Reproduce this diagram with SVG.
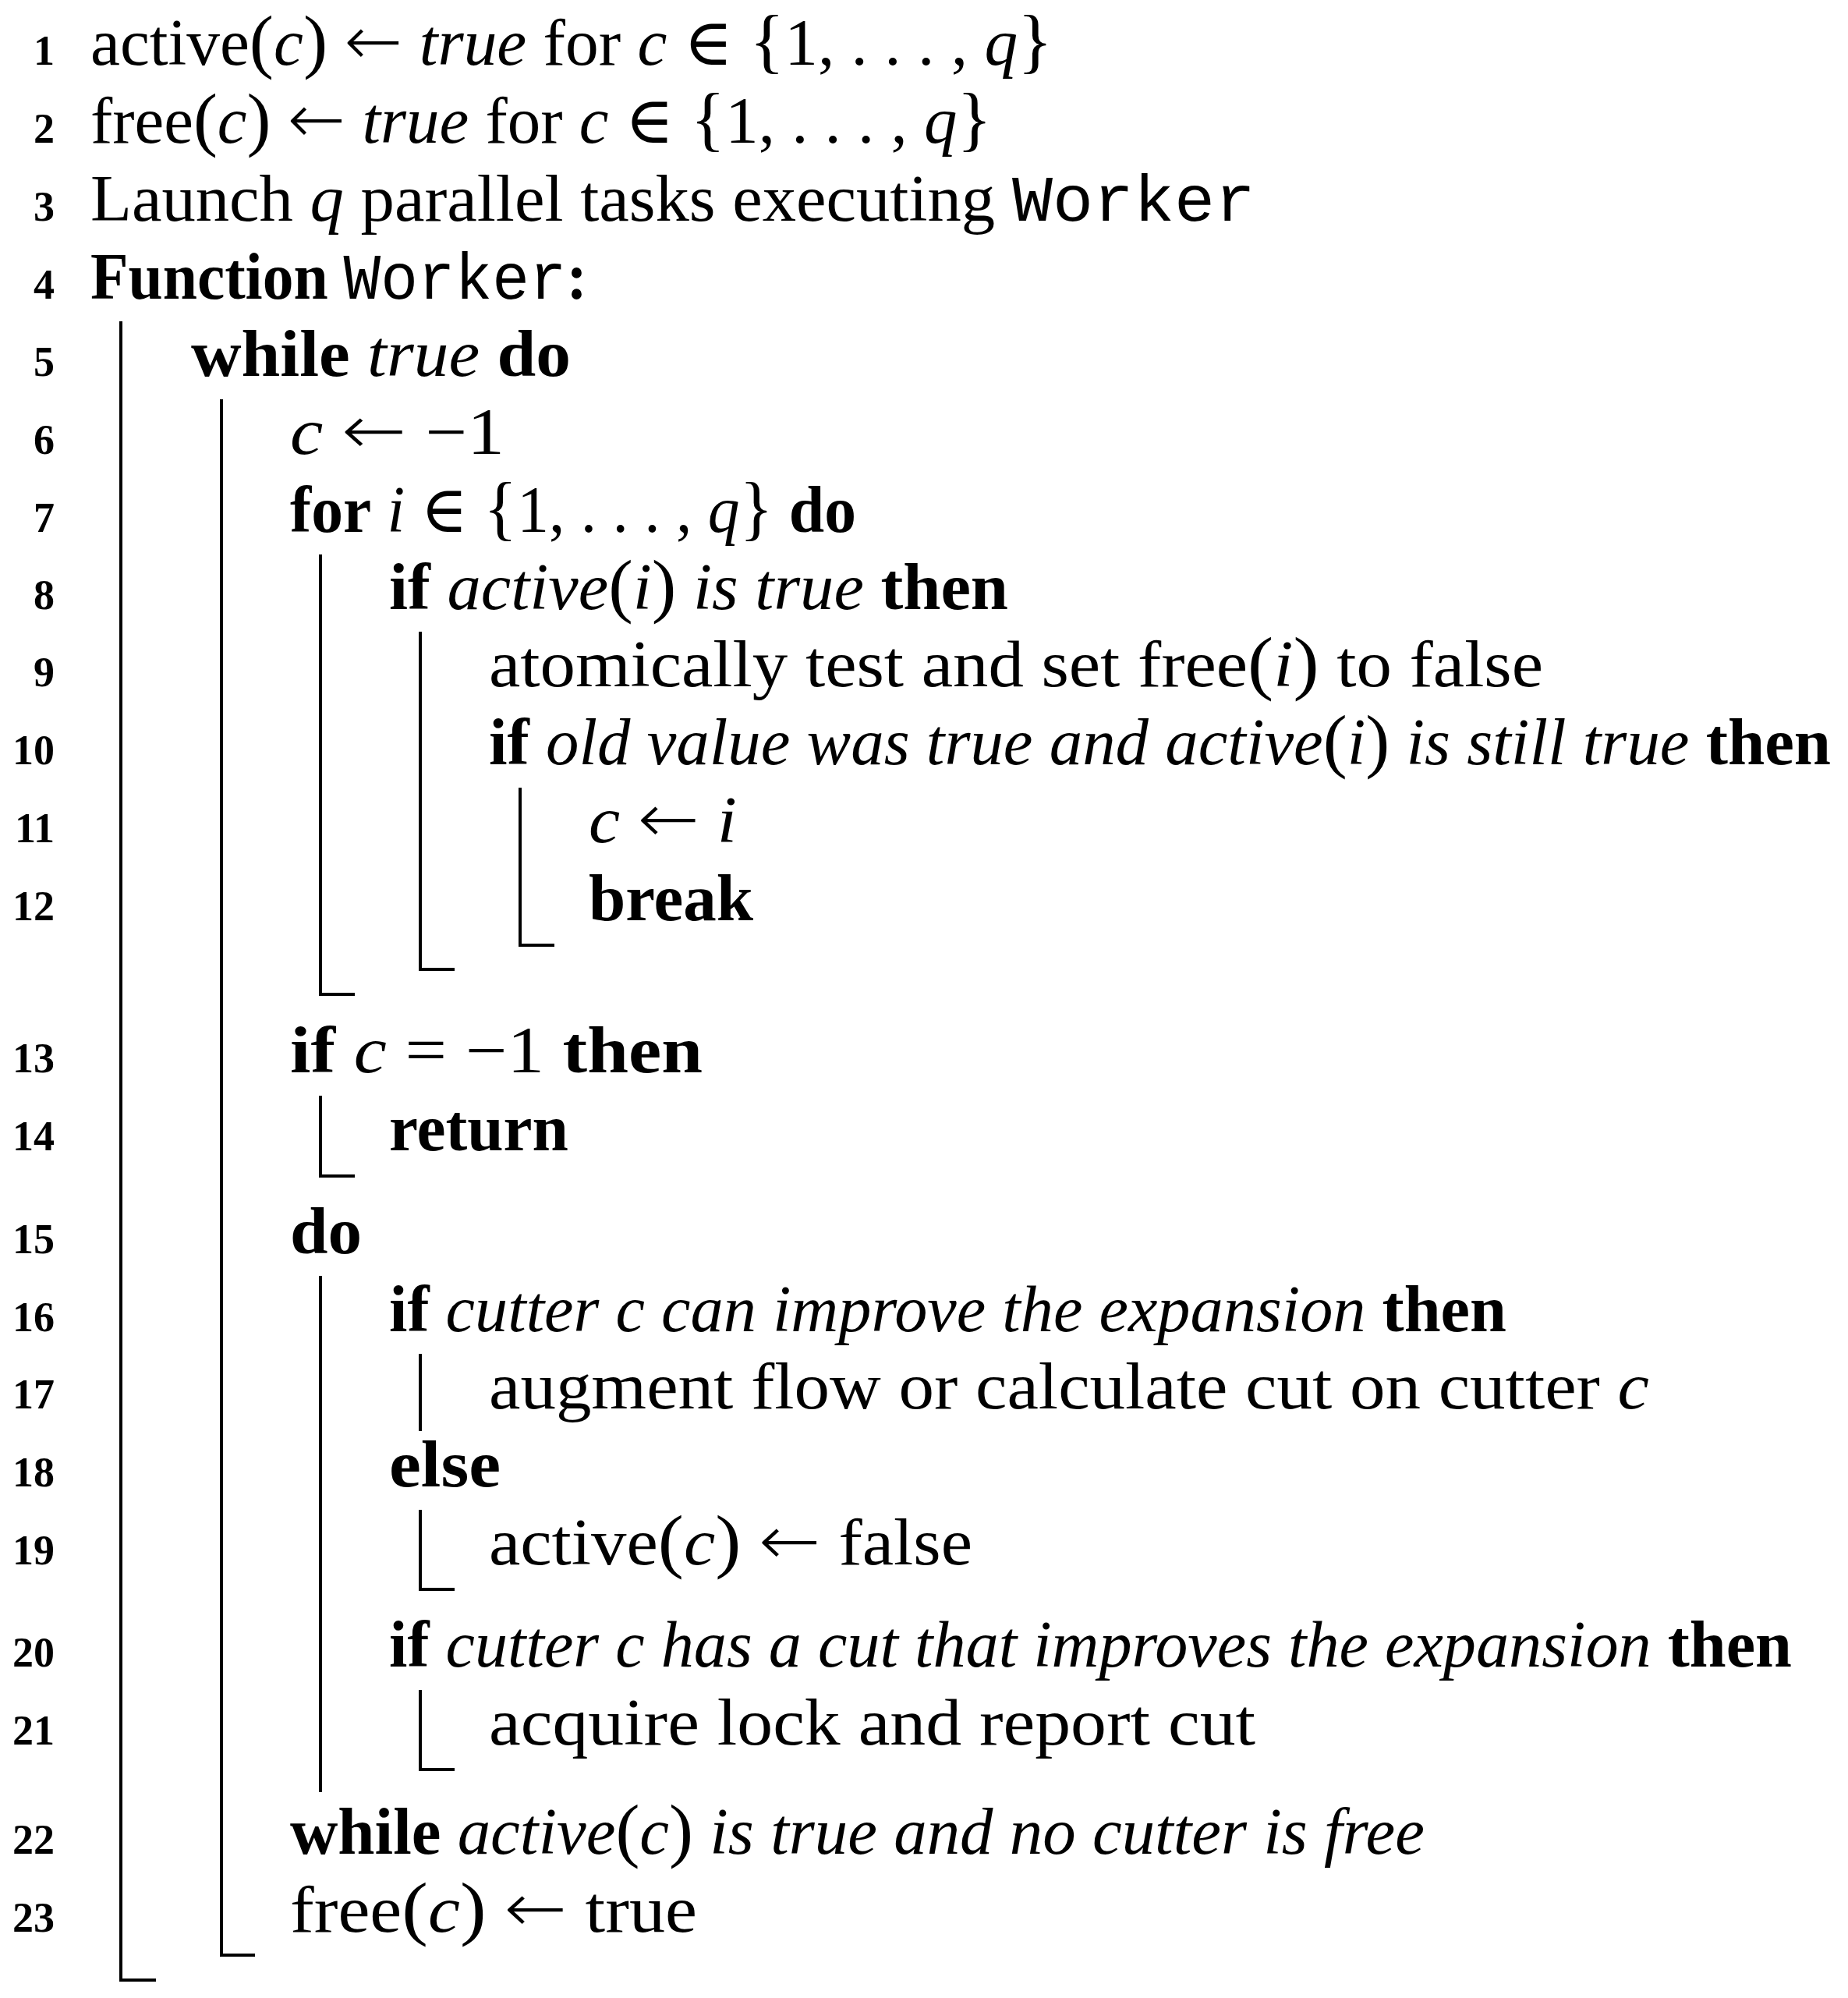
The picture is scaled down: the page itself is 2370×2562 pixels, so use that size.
<svg xmlns="http://www.w3.org/2000/svg" width="2370" height="2562" viewBox="0 0 2370 2562">
<style>
text{font-family:"Liberation Serif","DejaVu Serif",serif;font-size:84px;fill:#000}
.n{font-size:54px;font-weight:bold;text-anchor:end}
.b{font-weight:bold}
.i{font-style:italic}
.m{font-family:"Liberation Mono","DejaVu Sans Mono",monospace}
.p{font-size:92px}
.a{font-family:"DejaVu Sans",sans-serif;font-size:88px;font-weight:200}
.bar{fill:none;stroke:#000;stroke-width:4;stroke-linecap:butt;stroke-linejoin:miter}
</style>
<rect width="2370" height="2562" fill="#fff"/>
<g id="blocks">
<path class="bar" d="M155 412V2539H200"/>
<path class="bar" d="M284 512V2507H327"/>
<path class="bar" d="M411 711V1275H455"/>
<path class="bar" d="M539 810V1243H583"/>
<path class="bar" d="M667 1010V1212H711"/>
<path class="bar" d="M411 1405V1508H455"/>
<path class="bar" d="M411 1636V2298"/>
<path class="bar" d="M539 1736V1835"/>
<path class="bar" d="M539 1936V2038H583"/>
<path class="bar" d="M539 2167V2269H583"/>
</g>
<g id="line1"><text class="n" x="70" y="83">1</text><text x="116" y="83" textLength="1234" lengthAdjust="spacingAndGlyphs">active<tspan class="p">(</tspan><tspan class="i">c</tspan><tspan class="p">)</tspan> <tspan class="a">←</tspan> <tspan class="i">true</tspan> for <tspan class="i">c</tspan> ∈ <tspan class="p">{</tspan>1, . . . , <tspan class="i">q</tspan><tspan class="p">}</tspan></text></g>
<g id="line2"><text class="n" x="70" y="183">2</text><text x="116" y="183" textLength="1156" lengthAdjust="spacingAndGlyphs">free<tspan class="p">(</tspan><tspan class="i">c</tspan><tspan class="p">)</tspan> <tspan class="a">←</tspan> <tspan class="i">true</tspan> for <tspan class="i">c</tspan> ∈ <tspan class="p">{</tspan>1, . . . , <tspan class="i">q</tspan><tspan class="p">}</tspan></text></g>
<g id="line3"><text class="n" x="70" y="283">3</text><text x="116" y="283" textLength="1494" lengthAdjust="spacingAndGlyphs">Launch <tspan class="i">q</tspan> parallel tasks executing <tspan class="m">Worker</tspan></text></g>
<g id="line4"><text class="n" x="70" y="383">4</text><text x="116" y="383" textLength="637" lengthAdjust="spacingAndGlyphs"><tspan class="b">Function</tspan> <tspan class="m">Worker</tspan><tspan class="b">:</tspan></text></g>
<g id="line5"><text class="n" x="70" y="482">5</text><text x="245" y="482" textLength="487" lengthAdjust="spacingAndGlyphs"><tspan class="b">while</tspan> <tspan class="i">true</tspan> <tspan class="b">do</tspan></text></g>
<g id="line6"><text class="n" x="70" y="582">6</text><text x="372" y="582" textLength="275" lengthAdjust="spacingAndGlyphs"><tspan class="i">c</tspan> <tspan class="a">←</tspan> −1</text></g>
<g id="line7"><text class="n" x="70" y="682">7</text><text x="372" y="682" textLength="726" lengthAdjust="spacingAndGlyphs"><tspan class="b">for</tspan> <tspan class="i">i</tspan> ∈ <tspan class="p">{</tspan>1, . . . , <tspan class="i">q</tspan><tspan class="p">}</tspan> <tspan class="b">do</tspan></text></g>
<g id="line8"><text class="n" x="70" y="781">8</text><text x="499" y="781" textLength="794" lengthAdjust="spacingAndGlyphs"><tspan class="b">if</tspan> <tspan class="i">active</tspan><tspan class="p">(</tspan><tspan class="i">i</tspan><tspan class="p">)</tspan> <tspan class="i">is true</tspan> <tspan class="b">then</tspan></text></g>
<g id="line9"><text class="n" x="70" y="880">9</text><text x="627" y="880" textLength="1352" lengthAdjust="spacingAndGlyphs">atomically test and set free<tspan class="p">(</tspan><tspan class="i">i</tspan><tspan class="p">)</tspan> to false</text></g>
<g id="line10"><text class="n" x="70" y="980">10</text><text x="627" y="980" textLength="1721" lengthAdjust="spacingAndGlyphs"><tspan class="b">if</tspan> <tspan class="i">old value was true and active</tspan><tspan class="p">(</tspan><tspan class="i">i</tspan><tspan class="p">)</tspan> <tspan class="i">is still true</tspan> <tspan class="b">then</tspan></text></g>
<g id="line11"><text class="n" x="70" y="1080">11</text><text x="755" y="1080" textLength="190" lengthAdjust="spacingAndGlyphs"><tspan class="i">c</tspan> <tspan class="a">←</tspan> <tspan class="i">i</tspan></text></g>
<g id="line12"><text class="n" x="70" y="1180">12</text><text x="755" y="1180" textLength="211" lengthAdjust="spacingAndGlyphs" class="b">break</text></g>
<g id="line13"><text class="n" x="70" y="1375">13</text><text x="372" y="1375" textLength="529" lengthAdjust="spacingAndGlyphs"><tspan class="b">if</tspan> <tspan class="i">c</tspan> = −1 <tspan class="b">then</tspan></text></g>
<g id="line14"><text class="n" x="70" y="1475">14</text><text x="499" y="1475" textLength="230" lengthAdjust="spacingAndGlyphs" class="b">return</text></g>
<g id="line15"><text class="n" x="70" y="1607">15</text><text x="372" y="1607" textLength="92" lengthAdjust="spacingAndGlyphs" class="b">do</text></g>
<g id="line16"><text class="n" x="70" y="1707">16</text><text x="499" y="1707" textLength="1433" lengthAdjust="spacingAndGlyphs"><tspan class="b">if</tspan> <tspan class="i">cutter c can improve the expansion</tspan> <tspan class="b">then</tspan></text></g>
<g id="line17"><text class="n" x="70" y="1806">17</text><text x="627" y="1806" textLength="1488" lengthAdjust="spacingAndGlyphs">augment flow or calculate cut on cutter <tspan class="i">c</tspan></text></g>
<g id="line18"><text class="n" x="70" y="1906">18</text><text x="499" y="1906" textLength="143" lengthAdjust="spacingAndGlyphs" class="b">else</text></g>
<g id="line19"><text class="n" x="70" y="2006">19</text><text x="627" y="2006" textLength="620" lengthAdjust="spacingAndGlyphs">active<tspan class="p">(</tspan><tspan class="i">c</tspan><tspan class="p">)</tspan> <tspan class="a">←</tspan> false</text></g>
<g id="line20"><text class="n" x="70" y="2137">20</text><text x="499" y="2137" textLength="1799" lengthAdjust="spacingAndGlyphs"><tspan class="b">if</tspan> <tspan class="i">cutter c has a cut that improves the expansion</tspan> <tspan class="b">then</tspan></text></g>
<g id="line21"><text class="n" x="70" y="2237">21</text><text x="627" y="2237" textLength="983" lengthAdjust="spacingAndGlyphs">acquire lock and report cut</text></g>
<g id="line22"><text class="n" x="70" y="2377">22</text><text x="372" y="2377" textLength="1455" lengthAdjust="spacingAndGlyphs"><tspan class="b">while</tspan> <tspan class="i">active</tspan><tspan class="p">(</tspan><tspan class="i">c</tspan><tspan class="p">)</tspan> <tspan class="i">is true and no cutter is free</tspan></text></g>
<g id="line23"><text class="n" x="70" y="2477">23</text><text x="372" y="2477" textLength="522" lengthAdjust="spacingAndGlyphs">free<tspan class="p">(</tspan><tspan class="i">c</tspan><tspan class="p">)</tspan> <tspan class="a">←</tspan> true</text></g>
</svg>
